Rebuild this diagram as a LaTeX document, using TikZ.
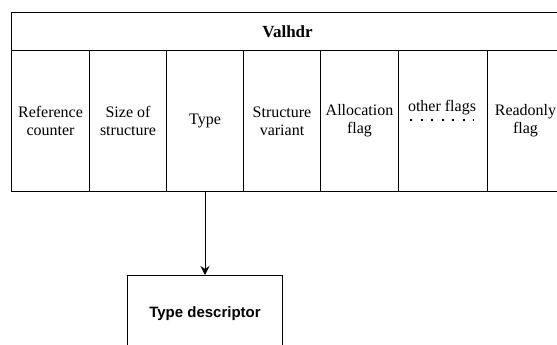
\documentclass[tikz,border=0pt]{standalone}
\usepackage{fontspec}
\setmainfont{Liberation Serif}
\newfontfamily\labelsans{Liberation Sans}
\usetikzlibrary{arrows.meta}
\tikzset{
  field/.style={draw=black, line width=1pt, minimum height=141pt, align=center, inner sep=0pt, font=\fontsize{16}{18}\selectfont},
  header/.style={draw=black, line width=1pt, minimum height=38pt, font=\fontsize{17}{19}\selectfont\bfseries},
  descbox/.style={draw=black, line width=1pt, minimum width=155pt, minimum height=76pt, font=\labelsans\fontsize{15}{18}\selectfont\bfseries},
  link/.style={draw=black, line width=1pt, -{Stealth[length=9pt,width=9pt]}}
}
\begin{document}
\begin{tikzpicture}[x=1pt, y=-1pt]
\useasboundingbox (0,0) rectangle (557,345);
\begin{scope}
\clip (0,0) rectangle (557,345);
% header row
\node[header, minimum width=552pt, anchor=north west] (hdr) at (11,12) {Valhdr};
% field columns
\node[field, minimum width=78pt, anchor=north west] (ref) at (11,50) {Reference\\counter};
\node[field, minimum width=77pt, anchor=north west] (size) at (89,50) {Size of\\structure};
\node[field, minimum width=77pt, anchor=north west] (type) at (166,50) {Type};
\node[field, minimum width=77pt, anchor=north west] (variant) at (243,50) {Structure\\variant};
\node[field, minimum width=78pt, anchor=north west] (alloc) at (320,50) {Allocation\\flag};
\node[field, minimum width=89pt, anchor=north west] (other) at (398,50) {};
\node[field, minimum width=76pt, anchor=north west] (ronly) at (487,50) {Readonly\\flag};
\node[font=\fontsize{16}{18}\selectfont, inner sep=0pt] (otherlbl) at (442,108) {other flags};
\coordinate (dotsL) at (410,120);
\coordinate (dotsR) at (474,120);
\draw[line width=2pt, dash pattern=on 2pt off 8.5pt] (dotsL) -- (dotsR);
% type descriptor
\node[descbox, anchor=north] (desc) at (205,275) {Type descriptor};
\draw[link] (type.south -| desc.north) -- (desc.north);
\end{scope}
\end{tikzpicture}
\end{document}
